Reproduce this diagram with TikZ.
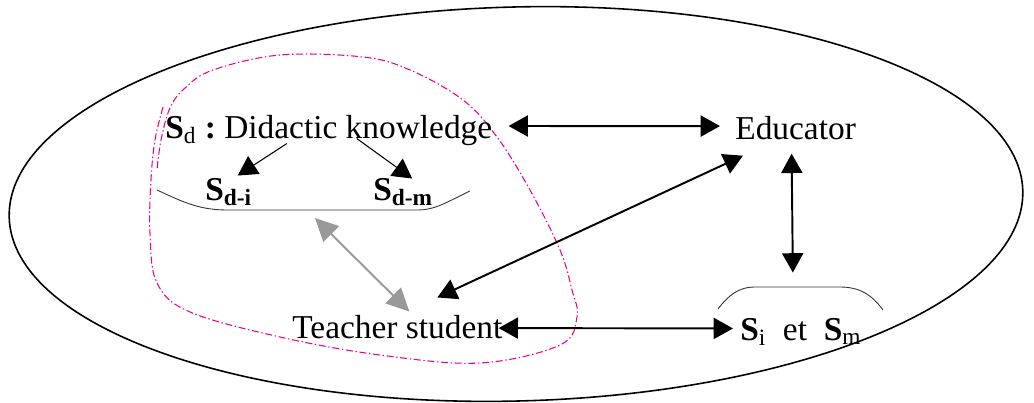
\documentclass[tikz,border=0pt]{standalone}
\usepackage{fontspec}
\setmainfont{Liberation Serif}
\usetikzlibrary{arrows.meta,calc}

\begin{document}
\begin{tikzpicture}[x=0.2mm,y=-0.2mm,
    >={Triangle[length=11pt,width=12pt]},
    lbl/.style={anchor=base west,inner sep=0pt,font=\fontsize{19}{23}\selectfont},
    link/.style={<->,line width=1.1pt},
    thin link/.style={->,line width=0.6pt},
    grey link/.style={{Triangle[length=13pt,width=12.5pt]}-{Triangle[length=13pt,width=12.5pt]},gray!80,line width=1.1pt},
    brace/.style={line width=0.5pt,black!80}]
    \useasboundingbox (0,0) rectangle (1034,403);

    % outer ellipse
    \draw[line width=0.9pt,rotate around={1.5:(516,204)}] (516,204) ellipse [x radius=507,y radius=197];

    % dash-dotted loop round the didactic side
    \draw[magenta,line width=0.6pt,dash pattern=on 4pt off 1.5pt on 0.8pt off 1.5pt]
        plot[smooth,tension=0.6] coordinates {(163,107) (155,140) (151,180) (150,233) (157,283) (190,312)
        (280,337) (380,355) (480,363) (560,345) (577,317) (572,290) (560,250) (530,190) (497,137)
        (463,100) (410,70) (363,57) (280,55) (213,70) (185,88) (170,108) (161,140) (157,170)};

    \node[lbl] (know)  at (165,138) {\textbf{S}\textsubscript{d}\ \textbf{:}\ Didactic knowledge};
    \node[lbl] (edu)   at (735,139) {Educator};
    \node[lbl] (teach) at (292,338) {Teacher student};
    \node[lbl] (sism)  at (740,340) {\textbf{S}\textsubscript{i}\ \ et\ \ \textbf{S}\textsubscript{m}};
    \node[lbl] (sdi)   at (205,200) {\textbf{S}\textsubscript{\textbf{d-i}}};
    \node[lbl] (sdm)   at (373,200) {\textbf{S}\textsubscript{\textbf{d-m}}};
    \coordinate (dsep) at (315,218);

    % braces
    \draw[brace] (157,190) .. controls (185,203) and (200,210) .. (228,210) -- (417,210)
        .. controls (435,210) and (445,203) .. (470,191);
    \draw[brace] (718,309) .. controls (728,296) and (738,287) .. (755,287) -- (840,287)
        .. controls (860,287) and (872,295) .. (883,310);

    \draw[link] ($(know.east)+(16,-4)$) -- ($(edu.west)+(-15,-1.5)$);
    \draw[link] ($(teach.north)+(40,-17)$) -- ($(edu.south west)+(8,16)$);
    \draw[link] ($(edu.south)+(-4,14)$) -- ($(sism.north)+(-8,-45)$);
    \draw[link] ($(teach.east)+(-4,1.5)$) -- ($(sism.west)+(-7,-3)$);
    \draw[grey link] (dsep) -- ($(teach.north)+(12,-3)$);
    \draw[thin link] ($(know.south)+(-42,-2)$) -- ($(sdi.north)+(9,-2)$);
    \draw[thin link] ($(know.south)+(28,-7)$) -- ($(sdm.north)+(9,1)$);
\end{tikzpicture}
\end{document}
